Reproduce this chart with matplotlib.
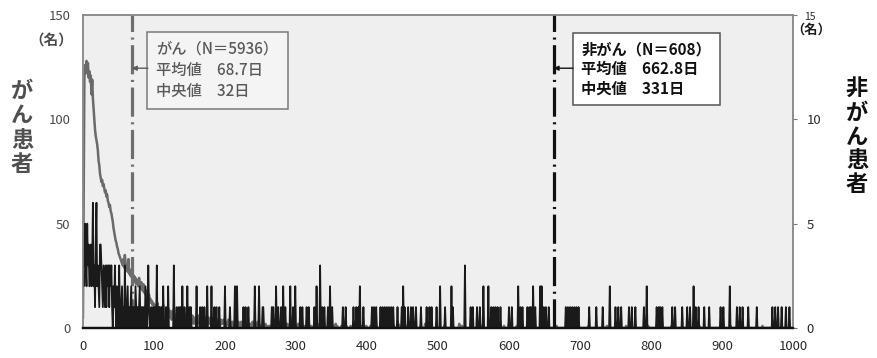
import numpy as np
import matplotlib
matplotlib.use("Agg")
import matplotlib.pyplot as plt

plt.rcParams['font.family'] = ['Noto Sans CJK JP', 'DejaVu Sans']
plt.rcParams['lines.scale_dashes'] = False

# ---- data ----
# cancer patients, daily counts for day 0..99
cancer_head = [5, 60, 120, 126, 122, 128, 124, 127, 120, 123,
               118, 121, 112, 119, 110, 105, 100, 95, 92, 90,
               88, 85, 80, 78, 74, 72, 70, 71, 68, 69,
               67, 65, 66, 63, 64, 61, 60, 58, 59, 56,
               55, 53, 51, 48, 46, 44, 42, 41, 39, 38,
               36, 35, 34, 33, 32, 31, 30, 33, 29, 35,
               31, 28, 30, 27, 33, 26, 28, 25, 27, 24,
               26, 23, 25, 22, 24, 21, 23, 22, 20, 24,
               21, 19, 22, 20, 18, 21, 17, 19, 16, 18,
               15, 17, 14, 16, 13, 14, 12, 13, 11, 12]
# day 100..249
cancer_mid = [10, 8, 11, 7, 9, 12, 6, 8, 10, 7,
              9, 6, 8, 11, 5, 7, 9, 6, 8, 5,
              7, 9, 5, 6, 8, 4, 7, 6, 9, 5,
              6, 4, 7, 5, 8, 4, 6, 5, 3, 7,
              5, 6, 4, 7, 3, 5, 6, 4, 5, 3,
              6, 4, 5, 3, 6, 4, 2, 5, 4, 3,
              5, 3, 4, 6, 2, 4, 3, 5, 3, 4,
              2, 4, 5, 3, 4, 2, 3, 5, 2, 4,
              3, 4, 2, 3, 5, 2, 3, 4, 2, 3,
              4, 2, 3, 1, 4, 3, 2, 3, 4, 2,
              3, 2, 1, 3, 2, 4, 1, 2, 3, 1,
              2, 3, 1, 2, 0, 3, 2, 1, 2, 3,
              1, 2, 0, 3, 1, 2, 2, 1, 3, 0,
              2, 1, 3, 1, 0, 2, 1, 2, 1, 3,
              0, 2, 1, 1, 2, 0, 3, 1, 2, 1]
cancer_tail_1 = [252, 255, 258, 261, 263, 267, 270, 274, 279, 283, 286, 290, 294,
                 297, 301, 305, 309, 312, 316, 321, 325, 330, 336, 341, 347, 352,
                 358, 364, 371, 377, 384, 392, 399, 405, 413, 421, 430, 438, 447,
                 455, 466, 476, 487, 498, 509, 521, 534, 547, 562, 578, 593, 611,
                 628, 645, 667, 689, 712, 738, 765, 796, 829, 868, 912, 957]
cancer_tail_2 = [257, 272, 288, 303, 318, 333, 356, 381, 410, 444, 482, 530, 600]

# non-cancer patients, daily counts for day 0..94
noncancer_head = [3, 2, 4, 5, 3, 2, 5, 3, 4, 2,
                  3, 4, 2, 3, 6, 2, 3, 1, 4, 6,
                  2, 3, 2, 1, 4, 4, 3, 2, 1, 3,
                  2, 1, 3, 1, 3, 2, 3, 1, 3, 2,
                  3, 1, 0, 2, 1, 3, 1, 0, 2, 1,
                  0, 3, 1, 0, 1, 2, 0, 1, 0, 3,
                  1, 0, 1, 2, 0, 1, 0, 1, 2, 0,
                  1, 0, 1, 0, 2, 1, 0, 1, 0, 1,
                  2, 0, 1, 0, 1, 0, 1, 0, 2, 1,
                  0, 1, 3, 1, 0]
noncancer_days_1 = [96, 99, 101, 106, 108, 111, 117, 132, 135, 137, 143, 150, 152,
                    165, 168, 171, 185, 188, 192, 207, 226, 229, 233, 253, 254,
                    266, 268, 275, 279, 285, 296, 306, 309, 315, 318, 326, 337,
                    340, 345, 351, 366, 370, 381, 385, 388, 395, 407, 410, 413,
                    419, 422, 425, 428, 431, 434, 437, 443, 449, 453, 458, 462,
                    465, 469, 476, 484, 488, 491, 498, 510, 521, 546, 549, 555,
                    559, 575, 578, 581, 584, 588, 600, 604, 616, 619, 626, 629,
                    631, 637, 649, 652, 656, 680, 683, 686, 689, 692, 695, 698,
                    713, 723, 732, 750, 754, 758, 769, 773, 778, 790, 808, 811,
                    813, 816, 830, 834, 844, 851, 855, 863, 867, 875, 882, 898,
                    902, 921, 925, 929, 937, 949, 971, 975, 979, 984, 990, 995]
noncancer_days_2 = [113, 120, 140, 147, 160, 175, 181, 200, 214, 217, 242, 248, 272,
                    282, 292, 299, 329, 348, 390, 451, 503, 519, 564, 571, 613, 634,
                    644, 646, 742, 794, 860, 911]
noncancer_days_3 = [92, 104, 128, 334, 538]

cancer_mean, cancer_median, cancer_n = 68.7, 32, 5936
noncancer_mean, noncancer_median, noncancer_n = 662.8, 331, 608

# ---- build daily series ----
days = np.arange(0, 1001)
cancer = np.zeros(len(days))
cancer[:len(cancer_head)] = cancer_head
cancer[100:100 + len(cancer_mid)] = cancer_mid
cancer[cancer_tail_1] = 1
cancer[cancer_tail_2] = 2

noncancer = np.zeros(len(days))
noncancer[:len(noncancer_head)] = noncancer_head
noncancer[noncancer_days_1] = 1
noncancer[noncancer_days_2] = 2
noncancer[noncancer_days_3] = 3

# ---- figure ----
fig = plt.figure(figsize=(8.77, 3.58), dpi=100)
ax = fig.add_axes([0.0946, 0.0838, 0.8096, 0.8743])
ax2 = ax.twinx()
ax.set_zorder(ax2.get_zorder() - 1)
ax.set_facecolor('#efefef')
ax2.patch.set_visible(False)

ax.plot(days, cancer, color='#6a6a6a', lw=1.8)
ax2.plot(days, noncancer, color='#1a1a1a', lw=1.3)

ax.axvline(cancer_mean, color='#6e6e6e', lw=2.3, linestyle=(0, (21, 4, 1.5, 4)))
ax2.axvline(noncancer_mean, color='#111111', lw=2.3, linestyle=(0, (21, 4, 1.5, 4)))

ax.set_xlim(0, 1000)
ax.set_ylim(0, 150)
ax2.set_ylim(0, 15)
ax.set_xticks(range(0, 1001, 100))
ax.set_yticks([0, 50, 100, 150])
ax2.set_yticks([0, 5, 10, 15])
ax2.set_yticklabels(['0', '5', '10', ''])

ax.tick_params(axis='y', length=0, pad=9, labelsize=9.5, labelcolor='#4a4a4a')
ax.tick_params(axis='x', length=0, pad=9, labelsize=9.5, labelcolor='#2a2a2a')
ax2.tick_params(axis='y', length=3, width=0.8, color='#777777', pad=7,
                labelsize=9.5, labelcolor='#2a2a2a')

for a in (ax, ax2):
    for s in ('left', 'top', 'right'):
        a.spines[s].set_color('#8a8a8a')
        a.spines[s].set_linewidth(1.1)
    a.spines['bottom'].set_color('#111111')
    a.spines['bottom'].set_linewidth(1.6)

# unit labels
fig.text(73 / 877, 1 - 40 / 358, '（名）', ha='right', va='center', fontsize=10.5,
         color='#4a4a4a', fontweight='bold')
fig.text(810 / 877, 1 - 17 / 358, '15', ha='center', va='center', fontsize=7.5, color='#2a2a2a')
fig.text(811 / 877, 1 - 30 / 358, '（名）', ha='center', va='center', fontsize=9.5,
         color='#1a1a1a', fontweight='bold')

# axis titles (vertical stacked)
fig.text(22 / 877, 1 - 128 / 358, 'が\nん\n患\n者', ha='center', va='center', fontsize=16,
         linespacing=1.08, color='#4f4f4f', fontweight='bold')
fig.text(857 / 877, 1 - 137 / 358, '非\nが\nん\n患\n者', ha='center', va='center', fontsize=16,
         linespacing=1.05, color='#111111', fontweight='bold')

# annotation boxes
txt_c = 'がん（N＝%d）\n平均値　%.1f日\n中央値　%d日' % (cancer_n, cancer_mean, cancer_median)
ax.text(0.0915 + 0.012, 0.942 - 0.025, txt_c, transform=ax.transAxes, ha='left', va='top',
        fontsize=11, linespacing=1.3, color='#5a5a5a', fontweight='medium',
        bbox=dict(boxstyle='square,pad=0.6', fc='#f4f4f4', ec='#7a7a7a', lw=1.1))
ax.annotate('', xy=(cancer_mean, 124.5), xytext=(91.5, 124.5),
            arrowprops=dict(arrowstyle='-|>', mutation_scale=7, lw=1.0, color='#5a5a5a',
                            shrinkA=0, shrinkB=0))

txt_n = '非がん（N＝%d）\n平均値　%.1f日\n中央値　%d日' % (noncancer_n, noncancer_mean, noncancer_median)
ax.text(0.690 + 0.012, 0.942 - 0.025, txt_n, transform=ax.transAxes, ha='left', va='top',
        fontsize=11, linespacing=1.3, color='#111111', fontweight='bold',
        bbox=dict(boxstyle='square,pad=0.55', fc='white', ec='#555555', lw=1.1))
ax.annotate('', xy=(noncancer_mean, 124.5), xytext=(690, 124.5),
            arrowprops=dict(arrowstyle='-|>', mutation_scale=7, lw=1.0, color='#111111',
                            shrinkA=0, shrinkB=0))

fig.savefig('out.png', dpi=100)
